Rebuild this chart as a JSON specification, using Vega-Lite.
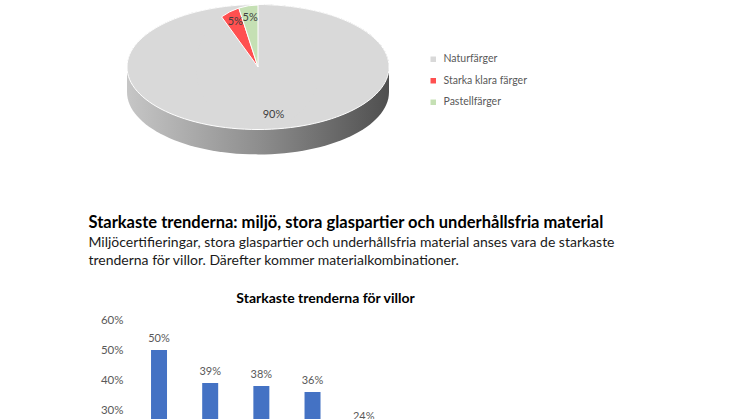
{
  "$schema": "https://vega.github.io/schema/vega-lite/v6.json",
  "padding": {"left": 88, "top": 0, "right": 0, "bottom": 0},
  "background": "white",
  "config": {
    "font": "Lato",
    "view": {"stroke": null},
    "axis": {"grid": false}
  },
  "spacing": 59,
  "vconcat": [
    {
      "width": 260,
      "height": 134,
      "data": {
        "values": [
          {"farg": "Naturfärger", "andel": 0.90, "ordning": 1},
          {"farg": "Starka klara färger", "andel": 0.05, "ordning": 2},
          {"farg": "Pastellfärger", "andel": 0.05, "ordning": 3}
        ]
      },
      "layer": [
        {
          "transform": [{"aggregate": [{"op": "sum", "field": "andel", "as": "helhet"}]}],
          "mark": {
            "type": "point",
            "shape": "M-1,0A1,0.477,0,0,1,1,0L1,0.19A1,0.477,0,0,1,-1,0.19Z",
            "size": 68644,
            "filled": true,
            "opacity": 1,
            "strokeWidth": 0,
            "fill": {
              "gradient": "linear",
              "x1": 0, "x2": 1, "y1": 0, "y2": 0,
              "stops": [
                {"offset": 0, "color": "#c6c6c6"},
                {"offset": 0.5, "color": "#8e8e8e"},
                {"offset": 1, "color": "#4f4f4f"}
              ]
            }
          },
          "encoding": {}
        },
        {
          "transform": [{"aggregate": [{"op": "sum", "field": "andel", "as": "helhet"}]}],
          "mark": {
            "type": "point",
            "shape": "M-1,0A1,0.477,0,0,1,1,0A1,0.477,0,0,1,-1,0Z",
            "size": 68644,
            "filled": true,
            "opacity": 1,
            "fill": "#d9d9d9",
            "stroke": "white",
            "strokeWidth": 1
          },
          "encoding": {}
        },
        {
          "mark": {"type": "arc", "radius": 62, "stroke": "white"},
          "encoding": {
            "theta": {"field": "andel", "type": "quantitative", "stack": true},
            "order": {"field": "ordning"},
            "color": {
              "field": "farg",
              "type": "nominal",
              "sort": ["Naturfärger", "Starka klara färger", "Pastellfärger"],
              "scale": {
                "domain": ["Naturfärger", "Starka klara färger", "Pastellfärger"],
                "range": ["#d9d9d9", "#ff5050", "#c5e0b4"]
              },
              "legend": {
                "title": null,
                "orient": "none",
                "legendX": 300,
                "legendY": 54,
                "symbolType": "square",
                "symbolSize": 30,
                "symbolStrokeWidth": 0,
                "labelFontSize": 10.5,
                "labelColor": "#595959",
                "rowPadding": 10.5,
                "labelOffset": 5
              }
            },
            "strokeWidth": {
              "condition": {"test": "datum.farg === 'Naturfärger'", "value": 0},
              "value": 1
            }
          }
        },
        {
          "mark": {"type": "text", "radius": 50, "fontSize": 11, "color": "#404040"},
          "encoding": {
            "theta": {"field": "andel", "type": "quantitative", "stack": true},
            "order": {"field": "ordning"},
            "text": {"field": "andel", "format": ".0%"}
          }
        }
      ]
    },
    {
      "title": {
        "text": "Starkaste trenderna: miljö, stora glaspartier och underhållsfria material",
        "subtitle": [
          "Miljöcertifieringar, stora glaspartier och underhållsfria material anses vara de starkaste",
          "trenderna för villor. Därefter kommer materialkombinationer."
        ],
        "anchor": "start",
        "dx": -12,
        "font": "Lato",
        "fontSize": 16.5,
        "fontWeight": "bold",
        "color": "#000000",
        "subtitleFont": "Lato",
        "subtitleFontSize": 14,
        "subtitleColor": "#1a1a1a",
        "subtitlePadding": 5,
        "subtitleLineHeight": 18,
        "offset": 24
      },
      "vconcat": [
        {
          "width": 323,
          "height": 99,
          "title": {
            "text": "Starkaste trenderna för villor",
            "fontSize": 14,
            "fontWeight": "bold",
            "color": "#000000",
            "offset": 8,
            "anchor": "middle",
            "dx": 36
          },
          "data": {
            "values": [
              {"trend": "Miljöcertifieringar", "andel": 0.50},
              {"trend": "Stora glaspartier", "andel": 0.39},
              {"trend": "Underhållsfria material", "andel": 0.38},
              {"trend": "Materialkombinationer", "andel": 0.36},
              {"trend": "Övriga trender", "andel": 0.24}
            ]
          },
          "encoding": {
            "x": {
              "field": "trend",
              "type": "nominal",
              "sort": null,
              "axis": null,
              "scale": {"paddingInner": 0.6875, "paddingOuter": 1, "align": 0.225}
            },
            "y": {
              "field": "andel",
              "type": "quantitative",
              "scale": {"domain": [0.27, 0.6], "zero": false, "nice": false},
              "axis": {
                "values": [0.3, 0.4, 0.5, 0.6],
                "format": ".0%",
                "title": null,
                "domain": false,
                "ticks": false,
                "labelFontSize": 11.5,
                "labelColor": "#595959",
                "labelPadding": 5
              }
            }
          },
          "layer": [
            {"mark": {"type": "bar", "color": "#4472c4", "clip": true}},
            {
              "mark": {"type": "text", "baseline": "bottom", "dy": -6, "fontSize": 11, "color": "#595959", "clip": true},
              "encoding": {"text": {"field": "andel", "format": ".0%"}}
            }
          ]
        }
      ]
    }
  ]
}
